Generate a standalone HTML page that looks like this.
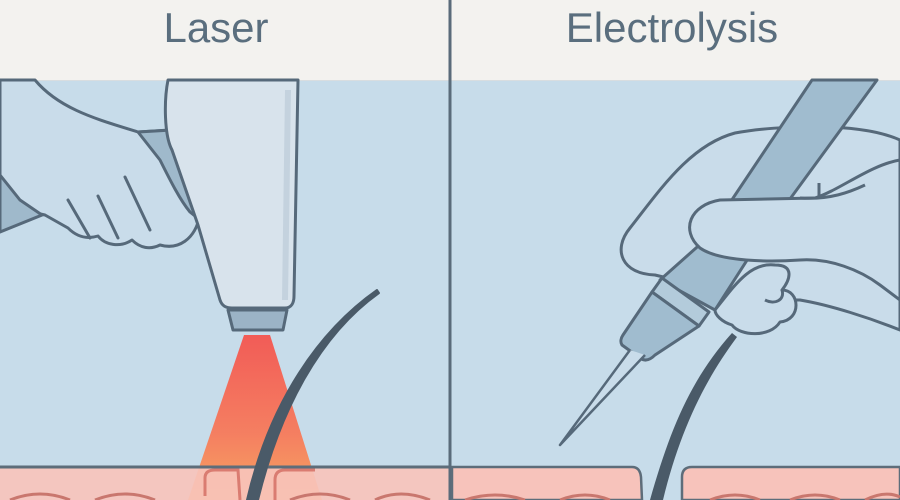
<!DOCTYPE html>
<html><head><meta charset="utf-8"><style>
html,body{margin:0;padding:0;width:900px;height:500px;overflow:hidden;background:#c7dcea}
svg{display:block}
text{font-family:"Liberation Sans",sans-serif}
</style></head><body>
<svg width="900" height="500" viewBox="0 0 900 500" xmlns="http://www.w3.org/2000/svg">
<defs>
<linearGradient id="beam" x1="0" y1="0" x2="0" y2="1">
<stop offset="0" stop-color="#f4554f"/><stop offset="0.6" stop-color="#f77a5a"/><stop offset="1" stop-color="#f9a25a"/>
</linearGradient>
</defs>
<rect x="0" y="0" width="900" height="500" fill="#c7dcea"/>
<rect x="0" y="0" width="900" height="80" fill="#f3f2ef"/>
<line x1="0" y1="80.5" x2="900" y2="80.5" stroke="#d8dde0" stroke-width="1"/>
<text x="216" y="42" font-size="42" fill="#5a6e7e" text-anchor="middle">Laser</text>
<text x="672" y="42" font-size="42" fill="#5a6e7e" text-anchor="middle">Electrolysis</text>

<!-- LEFT PANEL -->
<path d="M35 80 C60 110 100 120 138 132 L170 130 L200 215 C195 240 178 250 160 245 C150 250 140 248 132 240 C120 248 105 245 98 236 C85 240 75 235 68 228 L45 215 L0 205 L0 80 Z" fill="#c9dcea" stroke="#56697a" stroke-width="3" stroke-linejoin="round"/>
<path d="M0 175 L20 200 L42 215 L0 232 Z" fill="#9fb9cb" stroke="#56697a" stroke-width="3"/>
<path d="M138 132 L172 130 L200 220 L190 212 C180 200 170 180 160 160 Z" fill="#9fb9cb" stroke="#56697a" stroke-width="3" stroke-linejoin="round"/>
<path d="M68 200 L90 238 M98 196 L118 238 M125 177 L150 230" stroke="#56697a" stroke-width="3" fill="none" stroke-linecap="round"/>
<path d="M168 80 C164 100 164 135 172 150 L198 225 L220 300 C222 306 226 308 232 308 L285 308 C292 308 294 302 294 296 L298 80 Z" fill="#d8e3ec" stroke="#56697a" stroke-width="3" stroke-linejoin="round"/>
<path d="M288 90 L285 300" stroke="#c4d2de" stroke-width="6"/>
<path d="M228 310 L287 310 L283 330 L233 330 Z" fill="#9bb3c6" stroke="#56697a" stroke-width="3" stroke-linejoin="round"/>
<path d="M244 335 L270 335 L322 500 L188 500 Z" fill="url(#beam)" opacity="0.95"/>
<rect x="0" y="467" width="449" height="33" fill="#f7c3bb" opacity="0.92"/>
<path d="M0 467 L449 467" stroke="#5d6d7a" stroke-width="3"/>
<path d="M205 496 L205 478 Q205 470 215 470 L238 470 L240 500 M275 500 L275 480 Q275 470 285 470 L315 470" stroke="#d26a60" stroke-width="3" fill="none" opacity="0.8"/>
<path d="M10 500 Q40 488 70 500 M95 500 Q125 488 155 500 M290 500 Q320 488 350 500 M375 500 Q400 488 430 500" stroke="#c9776e" stroke-width="3" fill="none"/>
<path d="M377 290 C320 330 270 400 247 500 L258 500 C280 410 320 335 379 293 Z" fill="#4a5a68" stroke="#4a5a68" stroke-width="2" stroke-linejoin="round"/>

<line x1="450" y1="0" x2="450" y2="500" stroke="#5a6b7a" stroke-width="3"/>

<!-- RIGHT PANEL -->
<path d="M452 500 L452 467 L632 467 Q640 467 641 477 L642 500 Z" fill="#f7c3bb" stroke="#5d6d7a" stroke-width="2.5"/>
<path d="M682 500 L682 477 Q682 467 692 467 L900 467 L900 500 Z" fill="#f7c3bb" stroke="#5d6d7a" stroke-width="2.5"/>
<path d="M465 500 Q495 490 525 500 M560 500 Q585 490 610 500 M710 500 Q735 490 760 500 M790 500 Q815 490 840 500 M865 500 Q885 490 900 497" stroke="#c9776e" stroke-width="3" fill="none"/>
<path d="M732 333 C690 380 670 430 650 500 L663 500 C680 430 705 380 737 337 Z" fill="#4a5a68"/>
<!-- hand back -->
<path d="M655 275 C622 274 612 250 630 228 C660 190 690 145 735 133 C780 125 860 122 900 140 L900 330 C870 318 830 305 800 300 L760 300 Z" fill="#c9dcea" stroke="#56697a" stroke-width="3" stroke-linejoin="round"/>
<!-- pen -->
<path d="M812 80 L877 80 L760 240 L705 240 Z" fill="#a0bccf" stroke="#56697a" stroke-width="3" stroke-linejoin="round"/>
<path d="M705 240 L760 240 L715 310 L660 280 Z" fill="#a0bccf" stroke="#56697a" stroke-width="3" stroke-linejoin="round"/>
<path d="M662 278 L709 312 L699 326 L652 292 Z" fill="#b3cbdb" stroke="#56697a" stroke-width="3" stroke-linejoin="round"/>
<path d="M652 292 L699 326 L655 355 C650 360 645 362 640 358 L622 345 C620 342 621 338 623 335 Z" fill="#a0bccf" stroke="#56697a" stroke-width="3" stroke-linejoin="round"/>
<path d="M630 350 L560 445 L645 355" fill="#c9dcea" stroke="#56697a" stroke-width="2.5" stroke-linejoin="round"/>
<!-- thumb -->
<path d="M720 200 C690 205 680 230 700 248 C720 262 770 262 800 260 C830 258 860 270 880 285 L900 300 L900 160 C870 165 840 190 815 198 Z" fill="#c9dcea" stroke="#56697a" stroke-width="3" stroke-linejoin="round"/>
<path d="M800 198 C830 200 850 192 865 185 M819 183 L819 197" stroke="#56697a" stroke-width="3" fill="none"/>
<!-- fingers -->
<path d="M715 310 C735 285 750 262 775 265 C795 265 790 280 782 290 C800 290 802 320 780 322 C770 338 740 336 732 325 C722 322 715 315 715 310 Z" fill="#c9dcea" stroke="#56697a" stroke-width="3" stroke-linejoin="round"/>
<path d="M782 290 C785 300 775 305 765 300" stroke="#56697a" stroke-width="3" fill="none"/>
</svg>
</body></html>
